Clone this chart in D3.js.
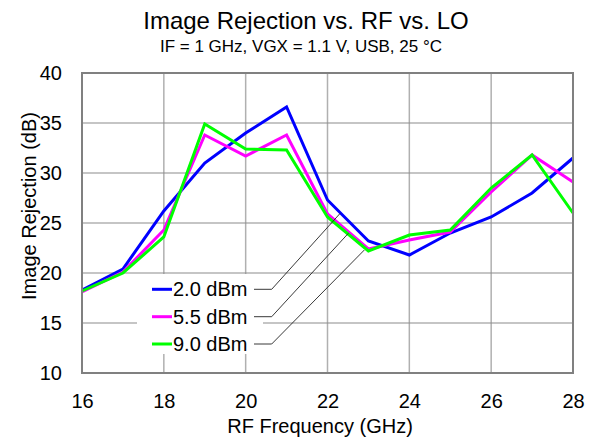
<!DOCTYPE html>
<html>
<head>
<meta charset="utf-8">
<script src="https://cdn.jsdelivr.net/npm/d3@7"></script>
<style>
  body { margin: 0; background: #fff; }
  svg { display: block; font-family: "Liberation Sans", Arial, sans-serif; }
</style>
</head>
<body>
<script>
// data
var freqs = [16, 17, 18, 19, 20, 21, 22, 23, 24, 25, 26, 27, 28];
var ir_2p0 = [18.3, 20.4, 26.2, 31.0, 34.0, 36.6, 27.3, 23.2, 21.8, 24.0, 25.6, 28.0, 31.5];
var ir_5p5 = [18.1, 20.1, 24.3, 33.8, 31.7, 33.8, 25.9, 22.4, 23.3, 24.1, 28.1, 31.8, 29.1];
var ir_9p0 = [18.2, 20.0, 23.6, 34.9, 32.4, 32.3, 25.6, 22.2, 23.8, 24.3, 28.5, 31.8, 26.0];
var seriesNames = ["2.0 dBm", "5.5 dBm", "9.0 dBm"];
var seriesColors = ["#0000ff", "#ff00ff", "#00ff00"];
// where each legend leader line touches its curve (GHz, dB)
var leaderTargets = [[22.31, 25.97], [22.51, 23.97], [22.9, 22.3]];
var xTicks = [16, 18, 20, 22, 24, 26, 28];
var yTicks = [10, 15, 20, 25, 30, 35, 40];

var W = 596, H = 442;
var margin = {top: 73, right: 23, bottom: 69, left: 82},
    width = W - margin.left - margin.right,
    height = H - margin.top - margin.bottom;

var svg = d3.select("body").append("svg")
    .attr("width", W)
    .attr("height", H);

var x = d3.scaleLinear().domain([16, 28]).range([0, width]);
var y = d3.scaleLinear().domain([10, 40]).range([height, 0]);

// titles
svg.append("text")
    .attr("x", 306).attr("y", 29)
    .attr("text-anchor", "middle")
    .style("font-size", "24px")
    .text("Image Rejection vs. RF vs. LO");
svg.append("text")
    .attr("x", 301).attr("y", 52)
    .attr("text-anchor", "middle")
    .style("font-size", "17px")
    .text("IF = 1 GHz, VGX = 1.1 V, USB, 25 \u00b0C");

var g = svg.append("g")
    .attr("transform", "translate(" + margin.left + "," + margin.top + ")");

// grid
g.selectAll(".vgrid")
    .data(xTicks)
    .enter().append("line")
    .attr("x1", d => x(d)).attr("x2", d => x(d))
    .attr("y1", 0).attr("y2", height)
    .style("stroke", "#b0b0b0")
    .style("stroke-width", 1.5);
g.selectAll(".hgrid")
    .data(yTicks)
    .enter().append("line")
    .attr("x1", 0).attr("x2", width)
    .attr("y1", d => y(d)).attr("y2", d => y(d))
    .style("stroke", "#8c8c8c")
    .style("stroke-width", 1.2);

// axes (labels only, the frame is drawn below)
var xAxis = g.append("g")
    .attr("transform", "translate(0," + height + ")")
    .call(d3.axisBottom(x).tickValues(xTicks).tickSize(0).tickPadding(20));
var yAxis = g.append("g")
    .call(d3.axisLeft(y).tickValues(yTicks).tickSize(0).tickPadding(20));
[xAxis, yAxis].forEach(function(a) {
    a.select(".domain").remove();
    a.selectAll("text")
        .style("font-family", "Liberation Sans, Arial, sans-serif")
        .style("font-size", "20px")
        .style("fill", "#000");
});
xAxis.selectAll("text").attr("dy", null).attr("y", 35);

svg.append("text")
    .attr("x", 320).attr("y", 433)
    .attr("text-anchor", "middle")
    .style("font-size", "20px")
    .text("RF Frequency (GHz)");
svg.append("text")
    .attr("transform", "translate(36,206) rotate(-90)")
    .attr("text-anchor", "middle")
    .style("font-size", "20px")
    .text("Image Rejection (dB)");

// series
var line = d3.line()
    .x((d, i) => x(freqs[i]))
    .y(d => y(d));

[ir_2p0, ir_5p5, ir_9p0].forEach(function(vals, i) {
    g.append("path")
        .datum(vals)
        .attr("d", line)
        .style("fill", "none")
        .style("stroke", seriesColors[i])
        .style("stroke-width", 3)
        .style("stroke-linejoin", "miter");
});

// legend box (white, hides grid)
var legX = 137 - margin.left, legY = 274 - margin.top;
g.append("rect")
    .attr("x", legX).attr("y", legY)
    .attr("width", 126).attr("height", 80)
    .style("fill", "#fff");

var rowY = [289.3, 316.7, 344].map(v => v - margin.top);
seriesNames.forEach(function(name, i) {
    g.append("line")
        .attr("x1", 152 - margin.left).attr("x2", 172 - margin.left)
        .attr("y1", rowY[i]).attr("y2", rowY[i])
        .style("stroke", seriesColors[i])
        .style("stroke-width", 3);
    g.append("text")
        .attr("x", 173 - margin.left).attr("y", rowY[i] + 7)
        .style("font-size", "20px")
        .text(name);
    // leader line
    g.append("polyline")
        .attr("points", [
            [254 - margin.left, rowY[i]],
            [271.7 - margin.left, rowY[i]],
            [x(leaderTargets[i][0]), y(leaderTargets[i][1])]
        ].map(p => p.join(",")).join(" "))
        .style("fill", "none")
        .style("stroke", "#222")
        .style("stroke-width", 0.9);
});

// frame
g.append("rect")
    .attr("width", width).attr("height", height)
    .style("fill", "none")
    .style("stroke", "#808080")
    .style("stroke-width", 2);
</script>
</body>
</html>
